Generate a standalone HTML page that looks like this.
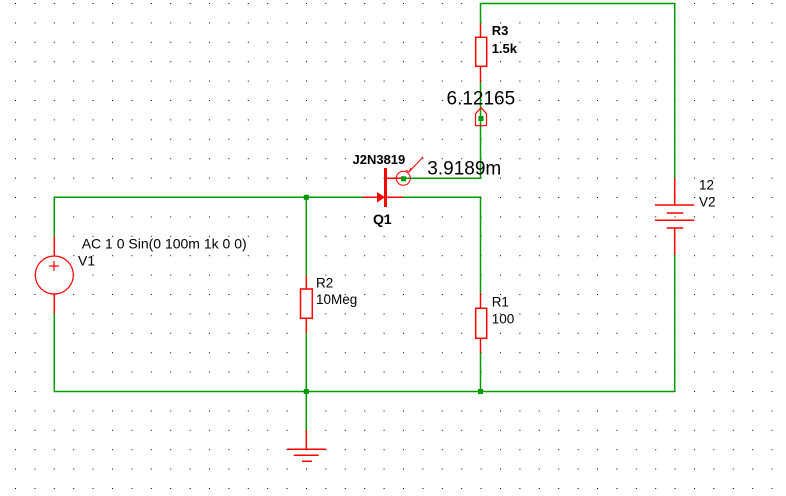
<!DOCTYPE html>
<html><head><meta charset="utf-8"><style>
html,body{margin:0;padding:0;background:#fff;}
svg{display:block;}
text{font-family:"Liberation Sans",Arial,sans-serif;fill:#000;}
</style></head><body>
<svg width="786" height="496" viewBox="0 0 786 496" xmlns="http://www.w3.org/2000/svg">
<defs>
<pattern id="g" x="15" y="3" width="19.4" height="19.4" patternUnits="userSpaceOnUse">
<rect x="0" y="0" width="1" height="1" fill="#000"/>
</pattern>
</defs>
<rect width="786" height="496" fill="#fff"/>
<rect width="786" height="496" fill="url(#g)"/>

<g stroke="#009900" stroke-width="1.5" fill="none">
<!-- top right loop -->
<polyline points="480.5,24 480.5,3.5 674.7,3.5 674.7,178"/>
<line x1="674.7" y1="255" x2="674.7" y2="391.5"/>
<line x1="480.5" y1="82" x2="480.5" y2="178.3"/>
<line x1="403" y1="178.3" x2="480.5" y2="178.3"/>
<!-- gate/drain loop -->
<polyline points="403,197.3 480.5,197.3 480.5,293"/>
<line x1="480.5" y1="352.7" x2="480.5" y2="391.5"/>
<!-- left loop -->
<polyline points="363,197.3 54.3,197.3 54.3,236.7"/>
<polyline points="54.3,313.5 54.3,391.5 674.7,391.5"/>
<line x1="306.3" y1="197.3" x2="306.3" y2="275.7"/>
<line x1="306.3" y1="333.3" x2="306.3" y2="430"/>
</g>

<g stroke="#ff0000" stroke-width="1.5" fill="none">
<!-- R3 -->
<line x1="480.5" y1="24" x2="480.5" y2="82"/>
<rect x="475.7" y="37.3" width="11" height="29" fill="#fff"/>
<!-- probe marker -->
<polygon points="481,107.7 486.5,113.7 486.5,125.7 475.5,125.7 475.5,113.7" fill="none" stroke-width="1.2"/>
<!-- R1 -->
<line x1="480.5" y1="293" x2="480.5" y2="352.7"/>
<rect x="475.7" y="308.3" width="11" height="30" fill="#fff"/>
<!-- R2 -->
<line x1="306.3" y1="275.7" x2="306.3" y2="333.3"/>
<rect x="300.5" y="289" width="11.8" height="29.3" fill="#fff"/>
<!-- V1 -->
<line x1="54.3" y1="236.7" x2="54.3" y2="313.5"/>
<circle cx="54.3" cy="275" r="19" fill="#fff" stroke-width="1.2"/>
<line x1="49" y1="266" x2="59" y2="266" stroke-width="1.2"/>
<line x1="54" y1="261" x2="54" y2="271" stroke-width="1.2"/>
<!-- ground -->
<line x1="306.3" y1="430" x2="306.3" y2="449.3"/>
<line x1="287.3" y1="449.3" x2="325.7" y2="449.3"/>
<line x1="293.7" y1="455.3" x2="318.7" y2="455.3"/>
<line x1="302" y1="461.3" x2="312" y2="461.3"/>
<!-- V2 -->
<line x1="674.7" y1="178" x2="674.7" y2="205"/>
<line x1="674.7" y1="228" x2="674.7" y2="255"/>
<line x1="655" y1="205" x2="694.3" y2="205"/>
<line x1="666.7" y1="213" x2="683.3" y2="213"/>
<line x1="655" y1="220.3" x2="694.3" y2="220.3"/>
<line x1="666.7" y1="228" x2="683.3" y2="228"/>
<!-- JFET -->
<line x1="363" y1="197.3" x2="403" y2="197.3"/>
<line x1="385" y1="178.3" x2="403" y2="178.3"/>
<line x1="385.5" y1="168" x2="385.5" y2="207" stroke-width="3"/>
<circle cx="403.3" cy="178.3" r="7" stroke-width="1"/>
<line x1="409" y1="172" x2="423" y2="157" stroke-width="1"/>
<polyline points="406,170 409,172 411,168" stroke-width="1"/>
</g>
<polygon points="377,192 385,197.3 377,202.5" fill="#ff0000"/>

<g fill="#009900">
<rect x="478.5" y="116" width="5" height="5"/>
<rect x="401" y="176.3" width="5" height="5"/>
<rect x="303.8" y="194.8" width="5" height="5"/>
<rect x="303.8" y="389" width="5" height="5"/>
<rect x="478" y="389" width="5" height="5"/>
</g>

<text x="491.7" y="35" font-size="13" font-weight="bold">R3</text>
<text x="491.7" y="53" font-size="13" font-weight="bold">1.5k</text>
<text x="446.5" y="104.3" font-size="19">6.12165</text>
<text x="427.3" y="174.5" font-size="19">3.9189m</text>
<text x="352.5" y="164" font-size="13" font-weight="bold">J2N3819</text>
<text x="373" y="224" font-size="14" font-weight="bold">Q1</text>
<text x="81.7" y="248.3" font-size="14">AC 1 0 Sin(0 100m 1k 0 0)</text>
<text x="78" y="265.7" font-size="14">V1</text>
<text x="316" y="287.3" font-size="13.5">R2</text>
<text x="316" y="304" font-size="13.5">10Meg</text>
<text x="491.7" y="306.7" font-size="13.5">R1</text>
<text x="491.7" y="323.3" font-size="13.5">100</text>
<text x="699" y="189.5" font-size="13.5">12</text>
<text x="699" y="206.7" font-size="13.5">V2</text>
</svg>
</body></html>
